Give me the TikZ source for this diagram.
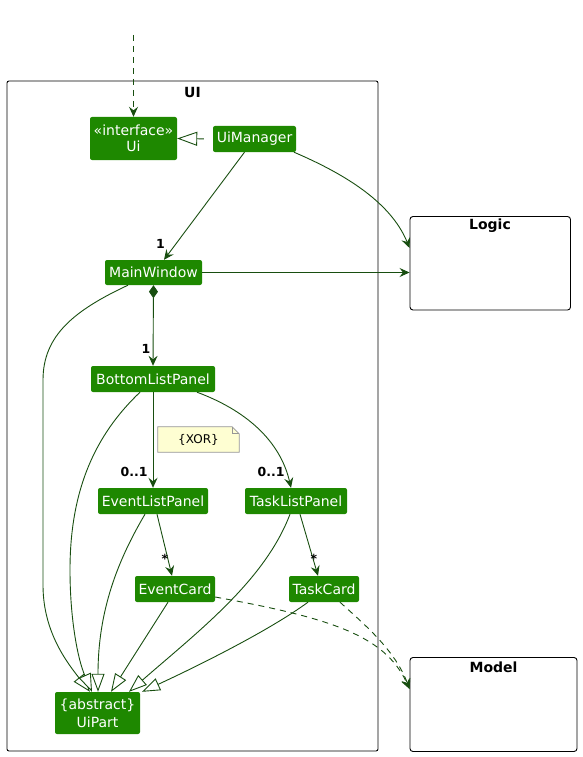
\documentclass[tikz,border=0pt]{standalone}
\usepackage{fontspec}
\setmainfont{DejaVu Sans}
\usetikzlibrary{arrows.meta,calc}
\definecolor{clsfill}{RGB}{30,136,0}
\definecolor{lc}{RGB}{24,78,16}
\definecolor{notefill}{RGB}{254,254,210}
\definecolor{noteline}{RGB}{150,150,150}
\begin{document}
\begin{tikzpicture}[x=1pt,y=-1pt,
  cls/.style={fill=clsfill, text=white, rounded corners=2pt, inner sep=0pt, align=center, font=\fontsize{14}{16}\selectfont},
  pkg/.style={draw=black, line width=0.9pt, rounded corners=2pt, inner sep=0pt},
  pkglbl/.style={font=\fontsize{14}{16}\selectfont\bfseries, inner sep=0pt},
  assoc/.style={draw=lc, line width=0.9pt, -{Stealth[length=10pt,width=9pt,inset=3.5pt]}},
  dep/.style={assoc, dash pattern=on 6pt off 5pt},
  inh/.style={draw=lc, line width=0.9pt, -{Triangle[open,length=18pt,width=13pt,fill=white]}},
  real/.style={draw=lc, line width=0.9pt, {Triangle[open,length=20pt,width=14pt,fill=white]}-, dash pattern=on 7pt off 10pt},
  comp/.style={draw=lc, line width=0.9pt, {Diamond[length=13pt,width=9pt,fill=lc]}-{Stealth[length=10pt,width=9pt,inset=3.5pt]}},
  mult/.style={font=\fontsize{12.5}{14}\selectfont\bfseries, text=black, inner sep=0pt},
  notebox/.style={inner sep=0pt, minimum width=81pt, minimum height=25pt, font=\fontsize{12}{14}\selectfont},
]
\useasboundingbox (0,0) rectangle (582,757);

% packages
\node[pkg, minimum width=371pt, minimum height=670pt] (uipkg) at (192.5,416) {};
\node[pkglbl] (uilbl) at (192.5,92) {UI};
\node[pkg, rounded corners=3pt, minimum width=160.5pt, minimum height=93.5pt] (logic) at (490.25,263.25) {};
\node[pkglbl] (logiclbl) at (490,226) {Logic};
\node[pkg, rounded corners=3pt, minimum width=167pt, minimum height=94pt] (model) at (493.5,704.5) {};
\node[pkglbl] (modellbl) at (493.5,667) {Model};

% classes
\node[cls, minimum width=87pt, minimum height=43pt] (ui) at (133.5,138.5) {«interface»\\Ui};
\node[cls, minimum width=83pt, minimum height=26pt] (uim) at (254.5,139) {UiManager};
\node[cls, minimum width=97pt, minimum height=25pt] (mw) at (153.5,272.5) {MainWindow};
\node[cls, minimum width=124pt, minimum height=26pt] (blp) at (153,379) {BottomListPanel};
\node[cls, minimum width=110pt, minimum height=26pt] (elp) at (153,501) {EventListPanel};
\node[cls, minimum width=102pt, minimum height=26pt] (tlp) at (296,501) {TaskListPanel};
\node[cls, minimum width=80pt, minimum height=26pt] (ec) at (175,589) {EventCard};
\node[cls, minimum width=70pt, minimum height=26pt] (tc) at (324,589) {TaskCard};
\node[cls, minimum width=85pt, minimum height=42pt, font=\fontsize{14}{18}\selectfont] (uip) at (97.5,713) {\{abstract\}\\UiPart};

% note
\node[notebox] (xor) at (198.5,439.5) {\{XOR\}};
\draw[draw=noteline, fill=notefill, line width=0.7pt] (xor.north west) -- ([xshift=-7pt]xor.north east) -- ([yshift=-7pt]xor.north east) -- (xor.south east) -- (xor.south west) -- cycle;
\draw[draw=noteline, line width=0.7pt] ([xshift=-7pt]xor.north east) -- ([xshift=-7pt,yshift=-7pt]xor.north east) -- ([yshift=-7pt]xor.north east);
\node[notebox] at (xor) {\{XOR\}};

\coordinate (top) at (133.5,35);

% connectors
\draw[dep] (top) -- (ui.north);
\draw[real] (ui.east) -- (uim.west);
\draw[assoc] (244.5,0 |- uim.south) -- (164,0 |- mw.north);
\draw[assoc] (294,0 |- uim.south) .. controls (340,172) and (390,200) .. (logic.west |- 0,248);
\draw[assoc] (mw.east) -- (logic.west |- mw.east);
\draw[comp] (mw.south) -- (blp.north);
\draw[inh] (128,0 |- mw.south) .. controls (75,310) and (43,335) .. (43,380) -- (43,585) .. controls (43,630) and (65,660) .. (90,0 |- uip.north);
\draw[inh] (140,0 |- blp.south) .. controls (95,435) and (70,490) .. (70,570) .. controls (70,620) and (78,660) .. (92,0 |- uip.north);
\draw[assoc] (blp.south) -- (elp.north);
\draw[assoc] (197,0 |- blp.south) .. controls (245,410) and (280,440) .. (291,0 |- tlp.north);
\draw[inh] (145,0 |- elp.south) .. controls (118,560) and (98,610) .. (98,0 |- uip.north);
\draw[assoc] (157,0 |- elp.south) -- (172,0 |- ec.north);
\draw[inh] (168,0 |- ec.south) -- (111,0 |- uip.north);
\draw[inh] (290,0 |- tlp.south) .. controls (265,580) and (200,630) .. (129,0 |- uip.north);
\draw[assoc] (300,0 |- tlp.south) -- (318,0 |- tc.north);
\draw[inh] (308,0 |- tc.south) .. controls (270,630) and (200,665) .. (142,0 |- uip.north);
\draw[dep] (ec.east |- 0,597) .. controls (330,618) and (385,635) .. (model.west |- 0,689);
\draw[dep] (340,0 |- tc.south) .. controls (365,625) and (395,650) .. (model.west |- 0,689);

% multiplicities
\node[mult] (m1) at (160.5,243.5) {1};
\node[mult] (m2) at (146,349) {1};
\node[mult] (m3) at (134,471.5) {0..1};
\node[mult] (m4) at (271,471.5) {0..1};
\node[mult] (m5) at (165,558.5) {*};
\node[mult] (m6) at (314,558.5) {*};
\end{tikzpicture}
\end{document}
